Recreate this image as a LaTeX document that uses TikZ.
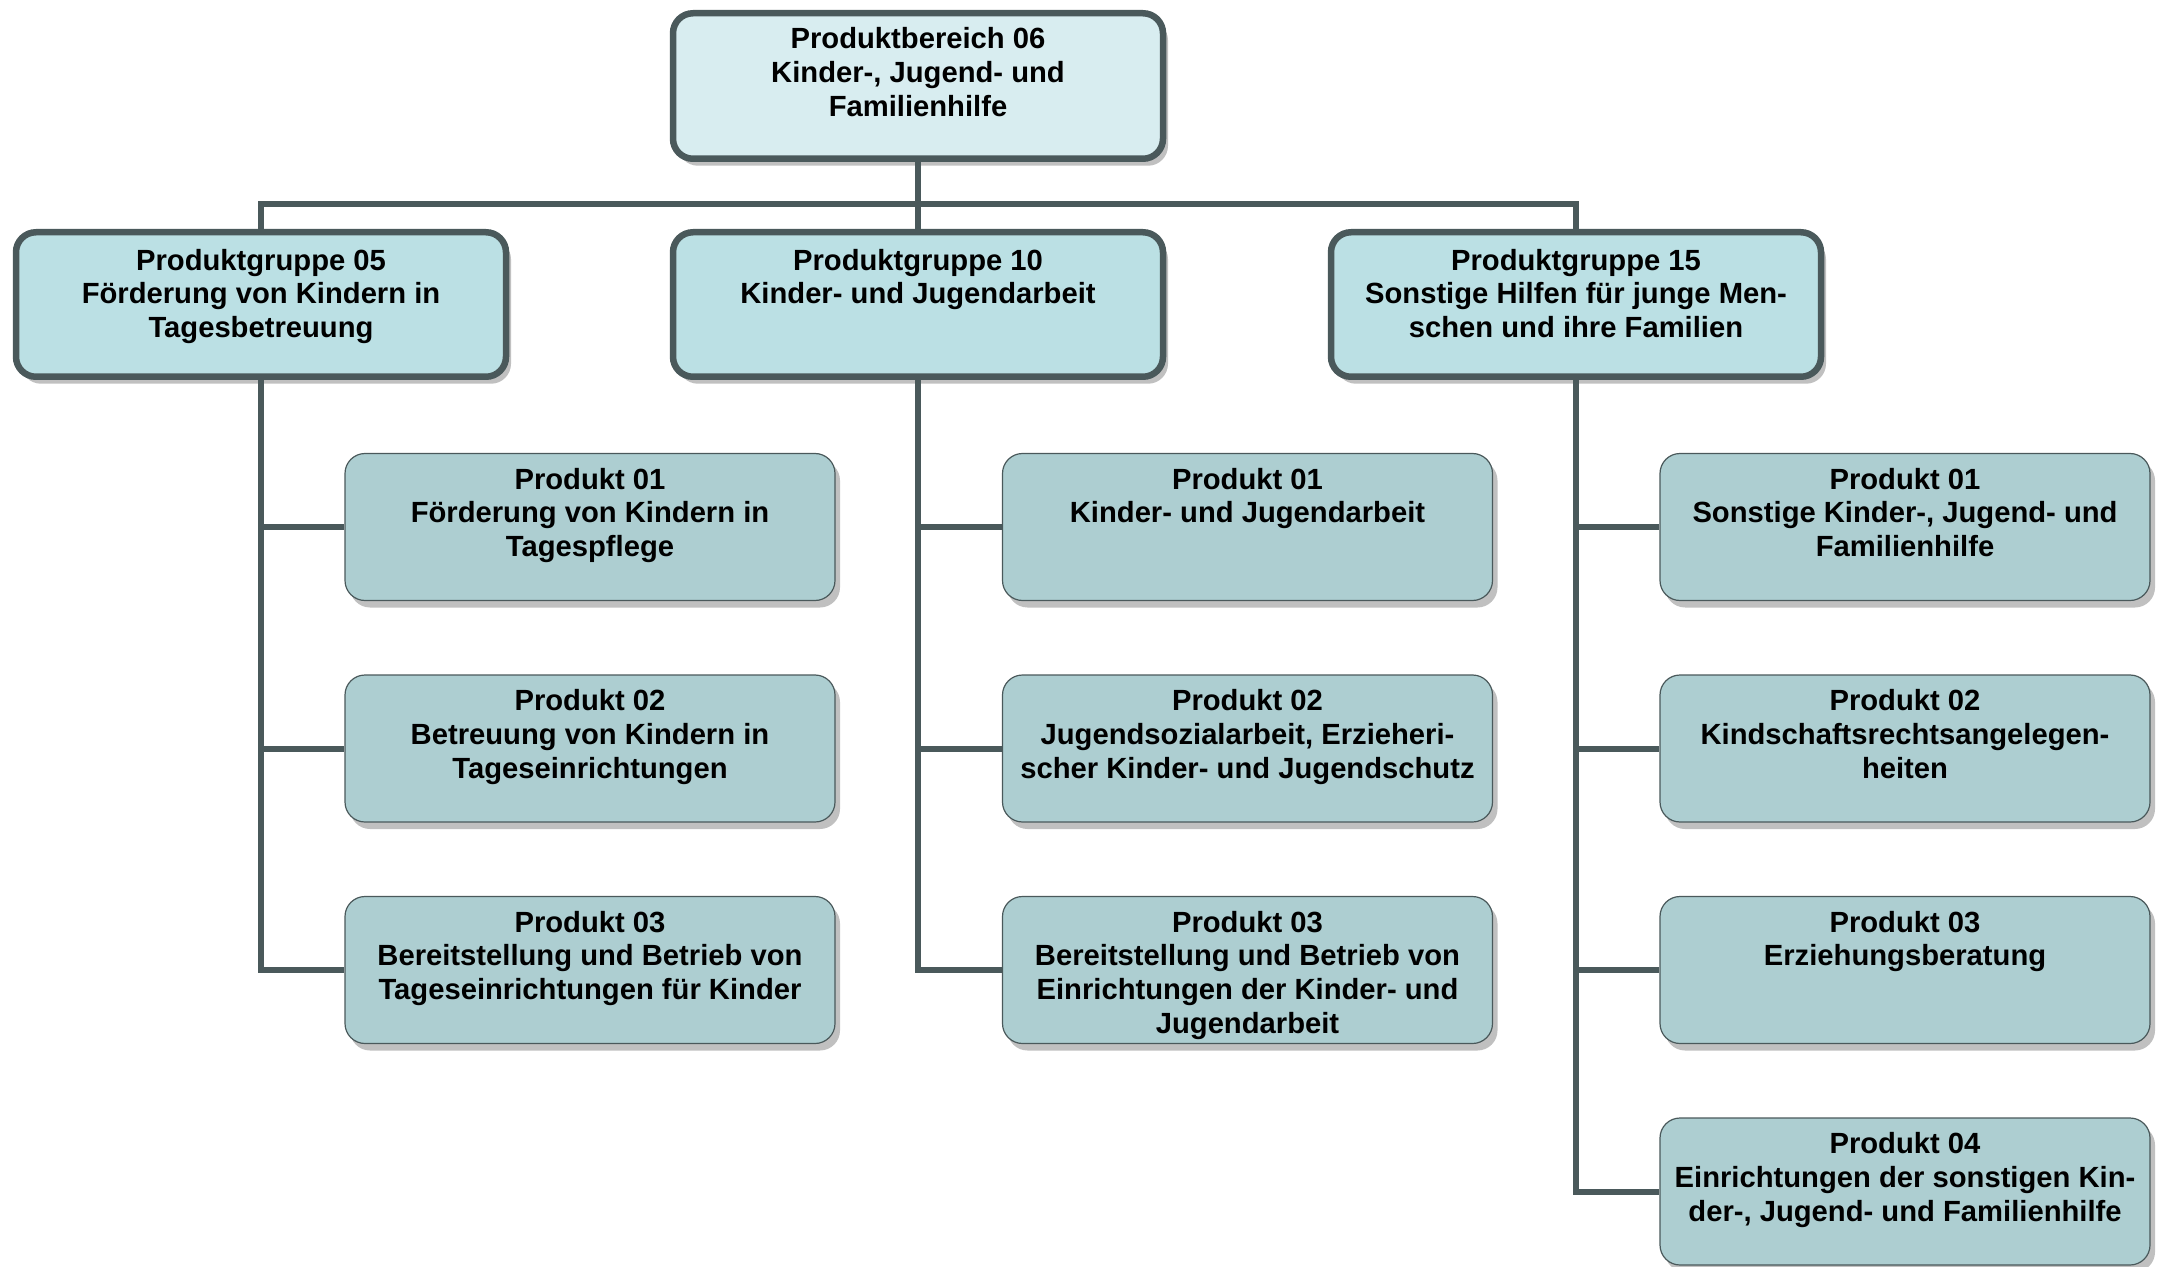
\documentclass[tikz,border=0pt]{standalone}
\usepackage{fontspec}
\setmainfont{Liberation Sans}
\usetikzlibrary{shadows}

\definecolor{boxline}{RGB}{74,89,91}
\definecolor{bereichfill}{RGB}{216,237,240}
\definecolor{gruppefill}{RGB}{187,224,228}
\definecolor{produktfill}{RGB}{173,206,209}
\definecolor{shadowgray}{RGB}{192,192,192}

% lines of a box, baseline on the first line
\newcommand{\zeilen}[1]{\begin{tabular}[t]{@{}c@{}}#1\end{tabular}}

\tikzset{every picture/.style={line width=0.75pt},
	boxtext/.style={font=\fontsize{14.6pt}{16.9pt}\selectfont\bfseries, inner sep=0pt, minimum width=245pt},
	boxshadow/.style={drop shadow={shadow xshift=2.5pt, shadow yshift=-3.5pt, fill=shadowgray, opacity=1}},
	bereich/.style={boxtext, boxshadow, draw=boxline, line width=3.25pt, fill=bereichfill, rounded corners=10pt, text height=17.6pt, text depth=55.15pt},
	gruppe/.style={bereich, fill=gruppefill, text height=18.9pt, text depth=53.35pt},
	produkt/.style={boxtext, boxshadow, draw=boxline, line width=0.6pt, fill=produktfill, rounded corners=10pt, text height=17.75pt, text depth=55.75pt},
	conn/.style={draw=boxline, line width=3pt}
}

\begin{document}
\begin{tikzpicture}[x=0.5pt,y=-0.5pt]
	\useasboundingbox (0,0) rectangle (2157,1267);
	
	%Produktbereich
	\node[bereich] (pb06) at (918,86) {\zeilen{Produktbereich 06\\Kinder-, Jugend- und\\Familienhilfe}};
	
	%Produktgruppen
	\node[gruppe] (pg05) at (261,304.5) {\zeilen{Produktgruppe 05\\Förderung von Kindern in\\Tagesbetreuung}};
	\node[gruppe] (pg10) at (918,304.5) {\zeilen{Produktgruppe 10\\Kinder- und Jugendarbeit}};
	\node[gruppe] (pg15) at (1576,304.5) {\zeilen{Produktgruppe 15\\Sonstige Hilfen für junge Men-\\schen und ihre Familien}};
	
	%Produkte der Gruppe 05
	\node[produkt] (a1) at (590,527) {\zeilen{Produkt 01\\Förderung von Kindern in\\Tagespflege}};
	\node[produkt] (a2) at (590,748.5) {\zeilen{Produkt 02\\Betreuung von Kindern in\\Tageseinrichtungen}};
	\node[produkt] (a3) at (590,970) {\zeilen{Produkt 03\\Bereitstellung und Betrieb von\\Tageseinrichtungen für Kinder}};
	
	%Produkte der Gruppe 10
	\node[produkt] (b1) at (1247.5,527) {\zeilen{Produkt 01\\Kinder- und Jugendarbeit}};
	\node[produkt] (b2) at (1247.5,748.5) {\zeilen{Produkt 02\\Jugendsozialarbeit, Erzieheri-\\scher Kinder- und Jugendschutz}};
	\node[produkt] (b3) at (1247.5,970) {\zeilen{Produkt 03\\Bereitstellung und Betrieb von\\Einrichtungen der Kinder- und\\Jugendarbeit}};
	
	%Produkte der Gruppe 15
	\node[produkt] (c1) at (1905,527) {\zeilen{Produkt 01\\Sonstige Kinder-, Jugend- und\\Familienhilfe}};
	\node[produkt] (c2) at (1905,748.5) {\zeilen{Produkt 02\\Kindschaftsrechtsangelegen-\\heiten}};
	\node[produkt] (c3) at (1905,970) {\zeilen{Produkt 03\\Erziehungsberatung}};
	\node[produkt] (c4) at (1905,1191.5) {\zeilen{Produkt 04\\Einrichtungen der sonstigen Kin-\\der-, Jugend- und Familienhilfe}};
	
	%Straight Lines
	\coordinate (bus) at (918,204);
	\draw[conn] (pb06.south) -- (pg10.north);
	\draw[conn] (pg05.north) |- (bus) -| (pg15.north);
	\foreach \p in {a1,a2,a3} \draw[conn] (pg05.south) |- (\p.west);
	\foreach \p in {b1,b2,b3} \draw[conn] (pg10.south) |- (\p.west);
	\foreach \p in {c1,c2,c3,c4} \draw[conn] (pg15.south) |- (\p.west);
	
\end{tikzpicture}
\end{document}
